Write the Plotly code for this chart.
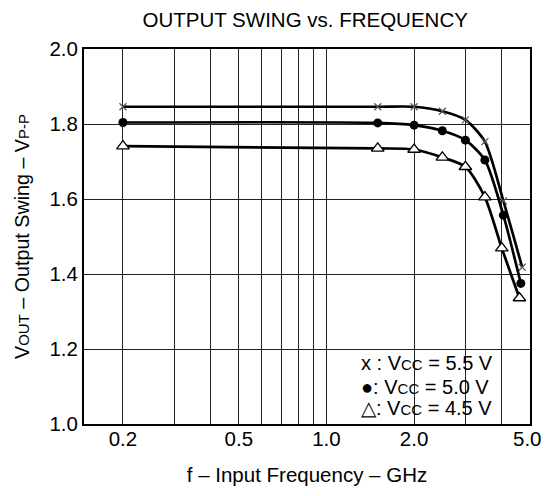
import math
import plotly.graph_objects as go

# Data
freq_55 = [0.2, 1.5, 2.0, 2.5, 3.0, 3.5, 4.05, 4.7]
vout_55 = [1.846, 1.846, 1.846, 1.834, 1.811, 1.753, 1.595, 1.418]

freq_50 = [0.2, 1.5, 2.0, 2.5, 3.0, 3.5, 4.05, 4.65]
vout_50 = [1.804, 1.803, 1.797, 1.782, 1.757, 1.704, 1.557, 1.375]

freq_45 = [0.2, 1.5, 2.0, 2.5, 3.0, 3.5, 4.0, 4.6]
vout_45 = [1.741, 1.735, 1.732, 1.711, 1.686, 1.605, 1.469, 1.336]

grid_x = [0.2, 0.3, 0.4, 0.5, 0.6, 0.7, 0.8, 0.9, 1.0, 2.0, 3.0, 4.0, 5.0]
grid_x_text = ["0.2", "", "", "0.5", "", "", "", "", "1.0", "2.0", "", "", ""]
last_x_label = "5.0"
y_ticks = [1.0, 1.2, 1.4, 1.6, 1.8, 2.0]
y_tick_text = ["1.0", "1.2", "1.4", "1.6", "1.8", "2.0"]
x_min, x_max = 0.147, 5.0

legend_lines = ["x : V{s} = 5.5 V", "●: V{s} = 5.0 V", "△: V{s} = 4.5 V"]

FONT = "Liberation Sans, Arial, sans-serif"

fig = go.Figure()

fig.add_trace(go.Scatter(
    x=freq_55, y=vout_55, mode="lines+markers", line_shape="spline",
    line=dict(color="black", width=2.7, smoothing=0.7),
    marker=dict(symbol="x-thin", size=7, line=dict(color="#555555", width=1.2)),
    showlegend=False))
fig.add_trace(go.Scatter(
    x=freq_50, y=vout_50, mode="lines+markers", line_shape="spline",
    line=dict(color="black", width=2.7, smoothing=0.7),
    marker=dict(symbol="circle", size=9, color="black"),
    showlegend=False))
fig.add_trace(go.Scatter(
    x=freq_45, y=vout_45, mode="lines+markers", line_shape="spline",
    line=dict(color="black", width=2.7, smoothing=0.7),
    marker=dict(symbol="triangle-up", size=11, color="white",
                line=dict(color="black", width=1.3)),
    showlegend=False))

sub = "<span style='font-size:15px'>{}</span>"
legend_y = [0.1627, 0.0987, 0.0427]
for txt, yy in zip(legend_lines, legend_y):
    fig.add_annotation(
        xref="paper", yref="paper", x=0.616, y=yy,
        xanchor="left", yanchor="middle", align="left",
        text=txt.format(s=sub.format("CC")), showarrow=False,
        font=dict(family=FONT, size=20, color="black"))

# last x tick label, kept inside the page edge
fig.add_annotation(
    xref="paper", yref="paper", x=1.0, y=0.0,
    xanchor="right", yanchor="middle", xshift=14, yshift=-14,
    text=last_x_label, showarrow=False,
    font=dict(family=FONT, size=20.5, color="black"))

fig.update_layout(
    width=545, height=496,
    margin=dict(l=84, r=15, t=49, b=72),
    paper_bgcolor="white", plot_bgcolor="white",
    font=dict(family=FONT, color="black"),
    title=dict(text="OUTPUT SWING vs. FREQUENCY", x=0.56, xanchor="center",
               y=0.961, yanchor="middle",
               font=dict(family=FONT, size=20.5, color="black")),
)

fig.update_xaxes(
    type="log", range=[math.log10(x_min), math.log10(x_max)],
    tickmode="array", tickvals=grid_x, ticktext=grid_x_text,
    showgrid=True, gridcolor="#222222", gridwidth=1,
    showline=True, linecolor="black", linewidth=2, mirror=True,
    ticks="", tickfont=dict(family=FONT, size=20.5), ticklabelstandoff=-5,
    title=dict(text="f – Input Frequency – GHz", standoff=19,
               font=dict(family=FONT, size=20.5)),
    zeroline=False)

fig.update_yaxes(
    range=[1.0, 2.0],
    tickmode="array", tickvals=y_ticks, ticktext=y_tick_text,
    showgrid=True, gridcolor="#222222", gridwidth=1,
    showline=True, linecolor="black", linewidth=2, mirror=True,
    ticks="", tickfont=dict(family=FONT, size=20.5),
    title=dict(text="V" + sub.format("OUT") + " – Output Swing – V" + sub.format("P-P"),
               standoff=15, font=dict(family=FONT, size=19.7)),
    zeroline=False)

fig.write_html("out.html", config={"displayModeBar": False},
               post_script="document.body.style.margin='0';")
